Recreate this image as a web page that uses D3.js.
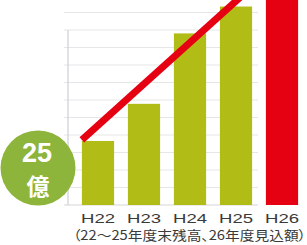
<!DOCTYPE html>
<html>
<head>
<meta charset="utf-8">
<script src="https://cdn.jsdelivr.net/npm/d3@7"></script>
<style>
html, body { margin: 0; padding: 0; background: #fff; }
svg { display: block; }
.note { font-feature-settings: "palt"; }
</style>
</head>
<body>
<svg width="307" height="245"></svg>
<script>
var categories = ['H22', 'H23', 'H24', 'H25', 'H26'];
var values = [25, 39.5, 67, 77.5, 90];   // 億円 (H26 runs off the top)
var trendFrom = ['H22', 25.4];
var trendTo = ['H25', 85.3];
var gridCount = 12;
var badgeNumber = '25';
var badgeUnit = '億';
var footnote = '（22～25年度末残高、26年度見込額）';

function init() {
    var svg = d3.select('svg');
    var baseY = 205;
    var yMax = 82;

    var x = d3.scaleBand().domain(categories).range([75, 305])
        .paddingInner(0.3).paddingOuter(0.15);
    var y = d3.scaleLinear().domain([0, yMax]).range([baseY, -5]);

    // grid lines
    var gridVals = d3.range(1, gridCount).map(function (i) { return i * yMax / gridCount; });
    svg.selectAll('.grid').data(gridVals).enter().append('line')
        .attr('class', 'grid')
        .attr('x1', 64).attr('x2', 258)
        .attr('y1', function (d) { return y(d); })
        .attr('y2', function (d) { return y(d); })
        .attr('stroke', '#e6e6e6').attr('stroke-width', 1);

    // axis lines
    svg.append('line')
        .attr('x1', 68).attr('x2', 68)
        .attr('y1', y(gridVals[gridVals.length - 2])).attr('y2', baseY)
        .attr('stroke', '#cfcfd6').attr('stroke-width', 1.2);
    svg.append('line')
        .attr('x1', 64).attr('x2', 258)
        .attr('y1', baseY).attr('y2', baseY)
        .attr('stroke', '#d6d6d6').attr('stroke-width', 1.2);

    // bars
    svg.selectAll('.bar').data(values).enter().append('rect')
        .attr('class', 'bar')
        .attr('x', function (d, i) { return x(categories[i]); })
        .attr('width', x.bandwidth())
        .attr('y', function (d) { return y(d); })
        .attr('height', function (d) { return baseY - y(d); })
        .attr('fill', function (d, i) { return i === categories.length - 1 ? '#e50012' : '#b2bc16'; });

    // trend arrow line
    svg.append('line')
        .attr('x1', x(trendFrom[0]))
        .attr('y1', y(trendFrom[1]))
        .attr('x2', x(trendTo[0]) + x.bandwidth())
        .attr('y2', y(trendTo[1]))
        .attr('stroke', '#e50012').attr('stroke-width', 7);

    // badge
    svg.append('circle')
        .attr('cx', 38).attr('cy', 168).attr('r', 37.5)
        .attr('fill', '#8db43b');
    svg.append('text')
        .attr('x', 37).attr('y', 162)
        .attr('text-anchor', 'middle')
        .attr('font-family', 'Liberation Sans, Arial, sans-serif')
        .attr('font-weight', 'bold').attr('font-size', 27)
        .attr('fill', '#fff')
        .text(badgeNumber);
    svg.append('text')
        .attr('x', 38).attr('y', 195)
        .attr('text-anchor', 'middle')
        .attr('font-family', 'Noto Sans CJK JP, sans-serif')
        .attr('font-weight', 'bold').attr('font-size', 23)
        .attr('fill', '#fff')
        .text(badgeUnit);

    // category labels
    svg.selectAll('.cat').data(categories).enter().append('text')
        .attr('class', 'cat')
        .attr('x', function (d) { return x(d) + x.bandwidth() / 2; })
        .attr('y', 223)
        .attr('text-anchor', 'middle')
        .attr('font-family', 'Liberation Sans, Arial, sans-serif')
        .attr('font-size', 13.5)
        .attr('fill', '#3a3a3a')
        .attr('textLength', 34)
        .attr('lengthAdjust', 'spacingAndGlyphs')
        .text(function (d) { return d; });

    svg.append('text')
        .attr('class', 'note')
        .attr('x', 73).attr('y', 240)
        .attr('font-family', 'Noto Sans CJK JP, sans-serif')
        .attr('font-size', 13)
        .attr('fill', '#3a3a3a')
        .attr('textLength', 233)
        .attr('lengthAdjust', 'spacingAndGlyphs')
        .text(footnote);
}
init();
</script>
</body>
</html>
